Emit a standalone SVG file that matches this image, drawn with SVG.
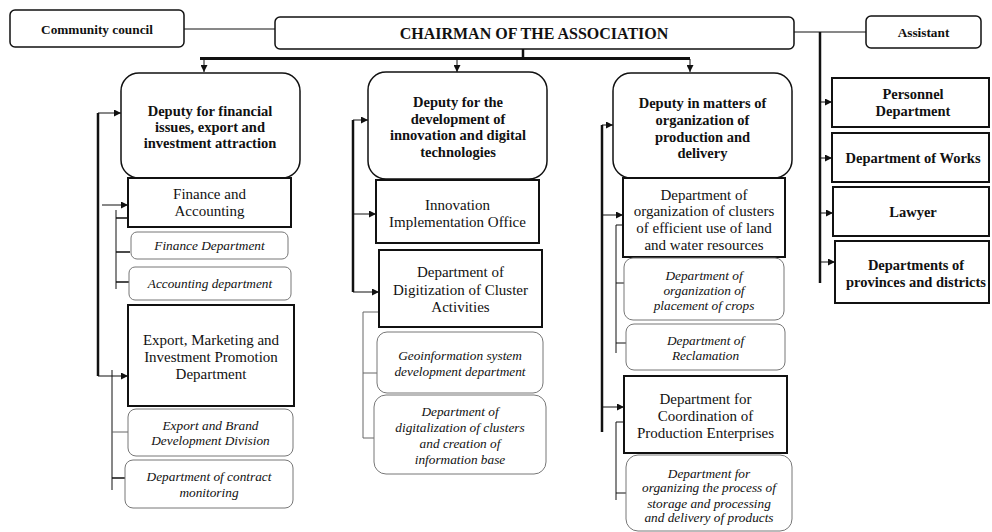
<svg xmlns="http://www.w3.org/2000/svg" width="992" height="532" viewBox="0 0 992 532">
<style>
text{font-family:'Liberation Serif','Times New Roman',serif;text-anchor:middle;fill:#111}
.b{font-weight:bold;font-size:14.5px}
.r{font-size:15px}
.i{font-style:italic;font-size:13.3px}
.top{fill:#fff;stroke:#111;stroke-width:1.5}
.dep{fill:#fff;stroke:#111;stroke-width:1.5}
.box{fill:#fff;stroke:#111;stroke-width:2}
.sub{fill:#fff;stroke:#777;stroke-width:1}
.c{fill:none;stroke:#111;stroke-width:1}
.t{fill:none;stroke:#111;stroke-width:2.5}
.g{fill:none;stroke:#666;stroke-width:1}
</style>
<defs>
<marker id="ar" viewBox="0 0 10 10" refX="10" refY="5" markerWidth="7" markerHeight="7" markerUnits="userSpaceOnUse" orient="auto">
<path d="M0,0 L10,5 L0,10 z" fill="#111"/>
</marker>
</defs>
<rect width="992" height="532" fill="#fff"/>
<g id="connectors">
<path class="c" d="M184,29 H275"/>
<path class="c" d="M794,32 H866"/>
<path class="t" d="M523,49 V58"/>
<path class="t" d="M200,58.5 H690" style="stroke-width:3"/>
<path class="c" d="M204,59 V72" marker-end="url(#ar)"/>
<path class="c" d="M457,59 V72" marker-end="url(#ar)"/>
<path class="c" d="M690,59 V72" marker-end="url(#ar)"/>
<path class="t" d="M820,32 V283"/>
<path class="c" d="M820,102 H832" marker-end="url(#ar)"/>
<path class="c" d="M820,158 H832" marker-end="url(#ar)"/>
<path class="c" d="M820,213 H833" marker-end="url(#ar)"/>
<path class="c" d="M820,262 H835" marker-end="url(#ar)"/>
<path class="t" d="M98,113 V376"/>
<path class="c" d="M98,113 H121" marker-end="url(#ar)"/>
<path class="c" d="M98,376 H128" marker-end="url(#ar)"/>
<path class="c" d="M102,205 H128" marker-end="url(#ar)"/>
<path class="c" d="M116,210 V289"/>
<path class="c" d="M116,218 H127 M116,252 H130 M116,282 H129" style="stroke-width:1.5"/>
<path class="c" d="M112,370 V490"/>
<path class="g" d="M112,432 H128"/>
<path class="c" d="M112,478 H125" style="stroke-width:1.5"/>
<path class="t" d="M353,120 V292"/>
<path class="c" d="M353,120 H368" marker-end="url(#ar)"/>
<path class="c" d="M353,214 H376" marker-end="url(#ar)"/>
<path class="c" d="M353,292 H379" marker-end="url(#ar)"/>
<path class="g" d="M379,312 H363 V438 H375 M363,373 H377"/>
<path class="t" d="M602,125 V432"/>
<path class="c" d="M602,125 H613" marker-end="url(#ar)"/>
<path class="c" d="M602,215 H623" marker-end="url(#ar)"/>
<path class="c" d="M602,407 H624" marker-end="url(#ar)"/>
<path class="c" d="M623,225 H616 V353 M616,283 H624 M616,343 H626"/>
<path class="c" d="M624,422 H616 V500 M616,493 H626"/>
</g>
<g id="community"><rect class="top" x="10" y="10" width="174" height="37" rx="5"/><text class="b" x="97" y="33.5" style="font-size:13.3px">Community council</text></g>
<g id="chairman"><rect class="top" x="275" y="17" width="519" height="32" rx="5"/><text class="b" x="534" y="38.5" style="font-size:16px">CHAIRMAN OF THE ASSOCIATION</text></g>
<g id="assistant"><rect class="top" x="866" y="16" width="115" height="32" rx="5"/><text class="b" x="923.5" y="36.5" style="font-size:13.3px">Assistant</text></g>
<g id="personnel"><rect class="box" x="832" y="78" width="157" height="49"/><text class="b" x="913" y="99">Personnel</text><text class="b" x="913" y="116">Department</text></g>
<g id="works"><rect class="box" x="832" y="133" width="157" height="49"/><text class="b" x="913" y="163">Department of Works</text></g>
<g id="lawyer"><rect class="box" x="833" y="187" width="156" height="49"/><text class="b" x="913" y="217">Lawyer</text></g>
<g id="provinces"><rect class="box" x="835" y="241" width="154" height="62"/><text class="b" x="916" y="270">Departments of</text><text class="b" x="916" y="287">provinces and districts</text></g>
<g id="deputy-fin"><rect class="dep" x="121" y="73" width="179" height="105" rx="18"/><text class="b" x="210" y="116">Deputy for financial</text><text class="b" x="210" y="132">issues, export and</text><text class="b" x="210" y="148">investment attraction</text></g>
<g id="fin-acc"><rect class="box" x="128" y="178" width="163" height="49"/><text class="r" x="209.5" y="199">Finance and</text><text class="r" x="209.5" y="216">Accounting</text></g>
<g id="fin-dept"><rect class="sub" x="131" y="232" width="157" height="27" rx="6"/><text class="i" x="209.5" y="250">Finance Department</text></g>
<g id="acc-dept"><rect class="sub" x="129" y="267" width="162" height="33" rx="6"/><text class="i" x="210" y="288">Accounting department</text></g>
<g id="export"><rect class="box" x="128" y="305" width="166" height="101"/><text class="r" x="211" y="345">Export, Marketing and</text><text class="r" x="211" y="362">Investment Promotion</text><text class="r" x="211" y="379">Department</text></g>
<g id="brand"><rect class="sub" x="128" y="409" width="165" height="47" rx="8"/><text class="i" x="210.5" y="429.5">Export and Brand</text><text class="i" x="210.5" y="444.5">Development Division</text></g>
<g id="contract"><rect class="sub" x="125" y="460" width="168" height="48" rx="8"/><text class="i" x="209" y="480.5">Department of contract</text><text class="i" x="209" y="496.5">monitoring</text></g>
<g id="deputy-inn"><rect class="dep" x="368" y="72" width="179" height="107" rx="18"/><text class="b" x="458" y="107">Deputy for the</text><text class="b" x="458" y="123.5">development of</text><text class="b" x="458" y="140">innovation and digital</text><text class="b" x="458" y="156.5">technologies</text></g>
<g id="innovation"><rect class="box" x="376" y="180" width="163" height="63"/><text class="r" x="457.5" y="210">Innovation</text><text class="r" x="457.5" y="227">Implementation Office</text></g>
<g id="digitization"><rect class="box" x="379" y="250" width="163" height="77"/><text class="r" x="460.5" y="277">Department of</text><text class="r" x="460.5" y="295">Digitization of Cluster</text><text class="r" x="460.5" y="312">Activities</text></g>
<g id="geo"><rect class="sub" x="377" y="332" width="166" height="61" rx="10"/><text class="i" x="460" y="359.5">Geoinformation system</text><text class="i" x="460" y="375.5">development department</text></g>
<g id="digitalization"><rect class="sub" x="374" y="395" width="172" height="79" rx="12"/><text class="i" x="460" y="415.5">Department of</text><text class="i" x="460" y="431.5">digitalization of clusters</text><text class="i" x="460" y="447.5">and creation of</text><text class="i" x="460" y="463.5">information base</text></g>
<g id="deputy-prod"><rect class="dep" x="613" y="73" width="179" height="105" rx="18"/><text class="b" x="702.5" y="108">Deputy in matters of</text><text class="b" x="702.5" y="125">organization of</text><text class="b" x="702.5" y="142">production and</text><text class="b" x="702.5" y="158">delivery</text></g>
<g id="clusters"><rect class="box" x="623" y="178" width="162" height="79"/><text class="r" x="704" y="200">Department of</text><text class="r" x="704" y="216">organization of clusters</text><text class="r" x="704" y="233">of efficient use of land</text><text class="r" x="704" y="250">and water resources</text></g>
<g id="crops"><rect class="sub" x="624" y="258" width="160" height="62" rx="9"/><text class="i" x="704" y="279.5">Department of</text><text class="i" x="704" y="294.5">organization of</text><text class="i" x="704" y="309.5">placement of crops</text></g>
<g id="reclamation"><rect class="sub" x="626" y="324" width="159" height="46" rx="8"/><text class="i" x="705.5" y="344.5">Department of</text><text class="i" x="705.5" y="359.5">Reclamation</text></g>
<g id="coordination"><rect class="box" x="624" y="376" width="163" height="77"/><text class="r" x="705.5" y="404">Department for</text><text class="r" x="705.5" y="421">Coordination of</text><text class="r" x="705.5" y="438">Production Enterprises</text></g>
<g id="storage"><rect class="sub" x="626" y="455" width="166" height="76" rx="12"/><text class="i" x="709" y="477.5">Department for</text><text class="i" x="709" y="491.5">organizing the process of</text><text class="i" x="709" y="507.5">storage and processing</text><text class="i" x="709" y="521.5">and delivery of products</text></g>
</svg>
